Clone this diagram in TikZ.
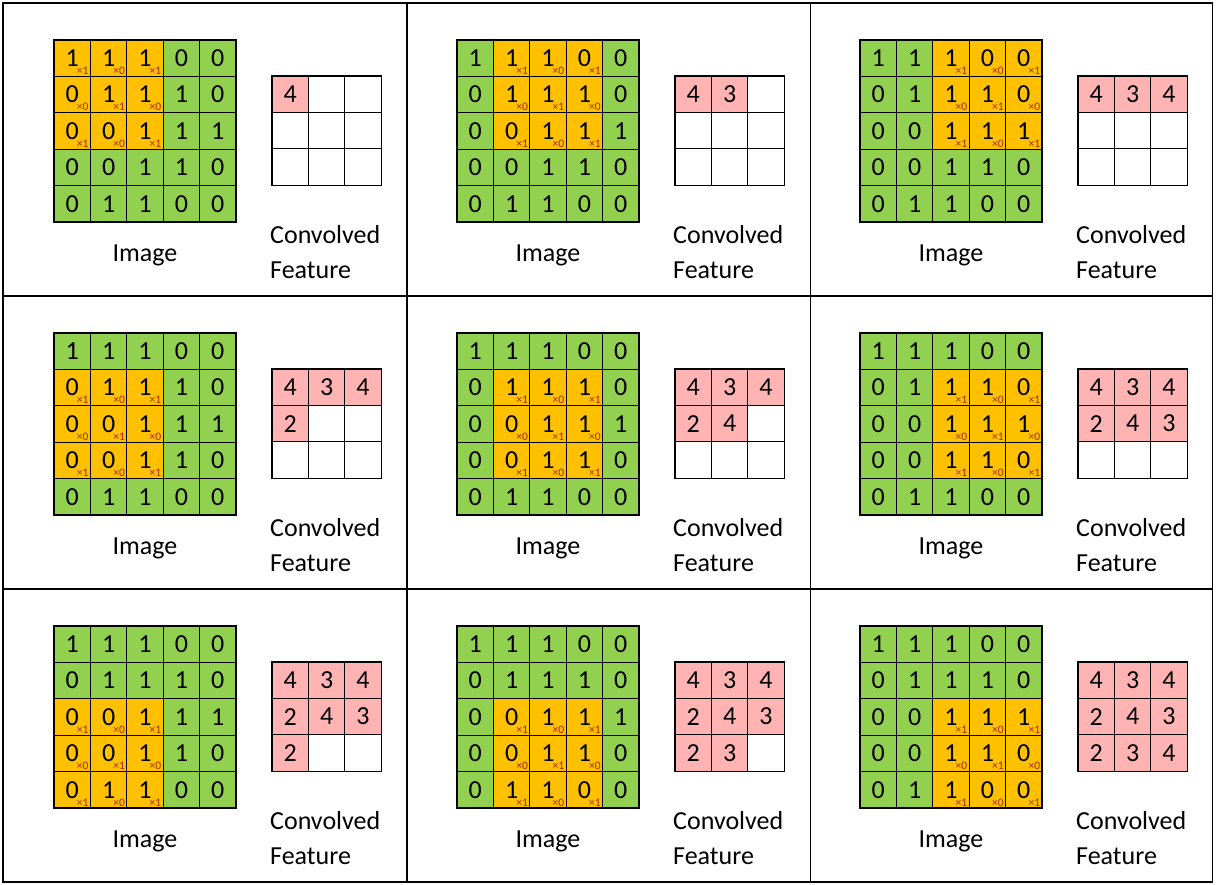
\documentclass[tikz,border=0pt]{standalone}
\usepackage{fontspec}
\setmainfont{Carlito}
\definecolor{imggreen}{HTML}{92D050}
\definecolor{winorange}{HTML}{FFC000}
\definecolor{convpink}{HTML}{FFB3B3}
\definecolor{wtred}{HTML}{A82800}
% input image, kernel and result, row by row
\def\imgdata{{1,1,1,0,0, 0,1,1,1,0, 0,0,1,1,1, 0,0,1,1,0, 0,1,1,0,0}}
\def\kerndata{{1,0,1, 0,1,0, 1,0,1}}
\def\convdata{{4,3,4, 2,4,3, 2,3,4}}

\begin{document}
\begin{tikzpicture}[x=1pt, y=-1pt,
    cell/.style={draw, line width=1.2pt, minimum size=36.4pt, inner sep=0pt, outer sep=0pt, anchor=north west, font=\fontsize{26}{30}\selectfont},
    imgcell/.style={cell, fill=imggreen},
    wincell/.style={cell, fill=winorange},
    convcell/.style={cell, fill=white},
    hitcell/.style={cell, fill=convpink},
    wt/.style={font=\fontsize{11.5}{12}\selectfont, text=wtred, inner sep=0pt},
    caption/.style={font=\fontsize{26}{30}\selectfont, inner sep=0pt}
]
\useasboundingbox (0,0) rectangle (1217,884);

\foreach \pr in {0,1,2}{
  \foreach \pc in {0,1,2}{
    \pgfmathsetmacro{\ox}{3+403*\pc}
    \pgfmathsetmacro{\oy}{3+293*\pr}
    \pgfmathtruncatemacro{\stepno}{3*\pr+\pc}
    % image with the 3x3 window
    \foreach \r in {0,...,4}{
      \foreach \c in {0,...,4}{
        \pgfmathtruncatemacro{\val}{\imgdata[5*\r+\c]}
        \pgfmathtruncatemacro{\inwin}{and(and(\r>=\pr,\r<=\pr+2),and(\c>=\pc,\c<=\pc+2))}
        \ifnum\inwin=1
          \pgfmathtruncatemacro{\wtval}{\kerndata[3*(\r-\pr)+(\c-\pc)]}
          \node[wincell] (img\pr\pc-\r\c) at (\ox+51+36.4*\c, \oy+37+36.4*\r) {\val};
          \node[wt] (wt\pr\pc-\r\c) at ([xshift=10.5pt, yshift=-12.5pt]img\pr\pc-\r\c.center) {×\wtval};
        \else
          \node[imgcell] (img\pr\pc-\r\c) at (\ox+51+36.4*\c, \oy+37+36.4*\r) {\val};
        \fi
      }
    }
    % convolved feature so far
    \foreach \i in {0,1,2}{
      \foreach \j in {0,1,2}{
        \pgfmathtruncatemacro{\m}{3*\i+\j}
        \ifnum\m>\stepno
          \node[convcell] (conv\pr\pc-\i\j) at (\ox+269+36.4*\j, \oy+73+36.4*\i) {};
        \else
          \pgfmathtruncatemacro{\cval}{\convdata[\m]}
          \node[hitcell] (conv\pr\pc-\i\j) at (\ox+269+36.4*\j, \oy+73+36.4*\i) {\cval};
        \fi
      }
    }
    \node[caption, anchor=base] (imglbl\pr\pc) at (\ox+142, \oy+258.7) {Image};
    \node[caption, anchor=base west] (convlbl\pr\pc) at (\ox+267, \oy+240) {Convolved};
    \node[caption, anchor=base west] (featlbl\pr\pc) at ([yshift=-35pt]convlbl\pr\pc.base west) {Feature};
  }
}

% panel frame
\draw[line width=1.6pt] (3,3) rectangle (1212.5,882);
\draw[line width=1.6pt] (407,3) -- (407,882) (810.5,3) -- (810.5,882);
\draw[line width=1.6pt] (3,296) -- (1212.5,296) (3,589) -- (1212.5,589);
\end{tikzpicture}
\end{document}
